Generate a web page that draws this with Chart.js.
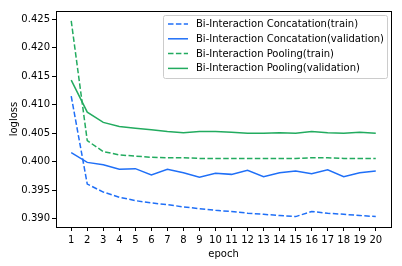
<!DOCTYPE html>
<html><head><meta charset="utf-8">
<script src="https://cdn.jsdelivr.net/npm/chart.js@4/dist/chart.umd.min.js"></script>
<style>html,body{margin:0;padding:0;background:#fff}#wrap{width:402px;height:266px}</style>
</head><body><div id="wrap"><canvas id="c" width="402" height="266"></canvas></div>
<script>
const epochs = [1,2,3,4,5,6,7,8,9,10,11,12,13,14,15,16,17,18,19,20];
const concatTrain = [0.4115,0.3961,0.3947,0.3938,0.3932,0.3928,0.3925,0.3921,0.3918,0.3915,0.3913,0.3910,0.3908,0.3906,0.3904,0.3913,0.3910,0.3908,0.3906,0.3904];
const concatVal = [0.4016,0.3999,0.3995,0.3987,0.3988,0.3977,0.3987,0.3981,0.3973,0.3980,0.3978,0.3985,0.3974,0.3981,0.3984,0.3979,0.3986,0.3974,0.3981,0.3984];
const poolTrain = [0.4247,0.4037,0.4018,0.4012,0.4010,0.4008,0.4007,0.4007,0.4006,0.4006,0.4006,0.4006,0.4006,0.4006,0.4006,0.4007,0.4007,0.4006,0.4006,0.4006];
const poolVal = [0.4143,0.4087,0.4069,0.4062,0.4059,0.4056,0.4053,0.4051,0.4053,0.4053,0.4052,0.4050,0.4050,0.4051,0.4050,0.4053,0.4051,0.4050,0.4052,0.4050];
const yTicks = [0.390,0.395,0.400,0.405,0.410,0.415,0.420,0.425];
const seriesLabels = ['Bi-Interaction Concatation(train)','Bi-Interaction Concatation(validation)','Bi-Interaction Pooling(train)','Bi-Interaction Pooling(validation)'];
const BLUE = '#1f6ff7', GREEN = '#22ab5f';
const FONT = 'DejaVu Sans';

function ds(label, data, color, dashed){
  return {label, data: epochs.map((e,i)=>({x:e,y:data[i]})), borderColor: color, backgroundColor: color,
    borderWidth: 1.5, borderDash: dashed ? [5.5,2.4] : [], pointRadius: 0, tension: 0, fill: false};
}

const frame = {
  id: 'frame',
  afterDatasetsDraw(chart){
    const {ctx, chartArea:a} = chart;
    ctx.save();
    ctx.strokeStyle = '#000'; ctx.lineWidth = 1;
    ctx.strokeRect(Math.round(a.left)+0.5, Math.round(a.top)+0.5, Math.round(a.right-a.left), Math.round(a.bottom-a.top));
    // legend
    const bx = 163.5, by = 15.5, bw = 224, bh = 63;
    ctx.fillStyle = 'rgba(255,255,255,0.8)';
    ctx.strokeStyle = '#cccccc';
    ctx.beginPath();
    ctx.roundRect ? ctx.roundRect(bx, by, bw, bh, 2) : ctx.rect(bx,by,bw,bh);
    ctx.fill(); ctx.stroke();
    ctx.font = '10px "' + FONT + '"';
    ctx.textBaseline = 'middle';
    chart.data.datasets.forEach((d,i)=>{
      const y = 24 + i*14.8;
      ctx.strokeStyle = d.borderColor; ctx.lineWidth = 1.5;
      ctx.setLineDash(d.borderDash.length ? [5.5,2.4] : []);
      ctx.beginPath(); ctx.moveTo(168, y); ctx.lineTo(188, y); ctx.stroke();
      ctx.setLineDash([]);
      ctx.fillStyle = '#000';
      ctx.fillText(d.label, 196, y+0.5);
    });
    ctx.restore();
  }
};

new Chart(document.getElementById('c'), {
  type: 'line',
  data: { datasets: [
    ds(seriesLabels[0], concatTrain, BLUE, true),
    ds(seriesLabels[1], concatVal, BLUE, false),
    ds(seriesLabels[2], poolTrain, GREEN, true),
    ds(seriesLabels[3], poolVal, GREEN, false)
  ]},
  options: {
    responsive: false, animation: false, devicePixelRatio: 1,
    layout: { padding: { left: 8, right: 11, top: 11, bottom: 0 } },
    plugins: { legend: { display: false }, tooltip: { enabled: false } },
    scales: {
      x: {
        type: 'linear', min: 0.05, max: 20.95,
        afterBuildTicks: s => { s.ticks = epochs.map(v=>({value:v})); },
        afterFit: s => { s.height = 39; },
        grid: { display: true, drawOnChartArea: false, drawTicks: true, tickLength: 4, color: '#000' },
        border: { display: true, color: '#000' },
        ticks: { color: '#000', font: { family: FONT, size: 10 }, padding: 3, maxRotation: 0, autoSkip: false, callback: v => String(v) },
        title: { display: true, text: 'epoch', color: '#000', font: { family: FONT, size: 10 }, padding: { top: 1, bottom: 6 } }
      },
      y: {
        type: 'linear', min: 0.38858, max: 0.42642,
        afterBuildTicks: s => { s.ticks = yTicks.map(v=>({value:v})); },
        afterFit: s => { s.width = 48; },
        grid: { display: true, drawOnChartArea: false, drawTicks: true, tickLength: 4, color: '#000' },
        border: { display: true, color: '#000' },
        ticks: { color: '#000', font: { family: FONT, size: 10 }, padding: 2, autoSkip: false, callback: v => v.toFixed(3) },
        title: { display: true, text: 'logloss', color: '#000', font: { family: FONT, size: 10 }, padding: { top: 0, bottom: 2 } }
      }
    }
  },
  plugins: [frame]
});
</script></body></html>
